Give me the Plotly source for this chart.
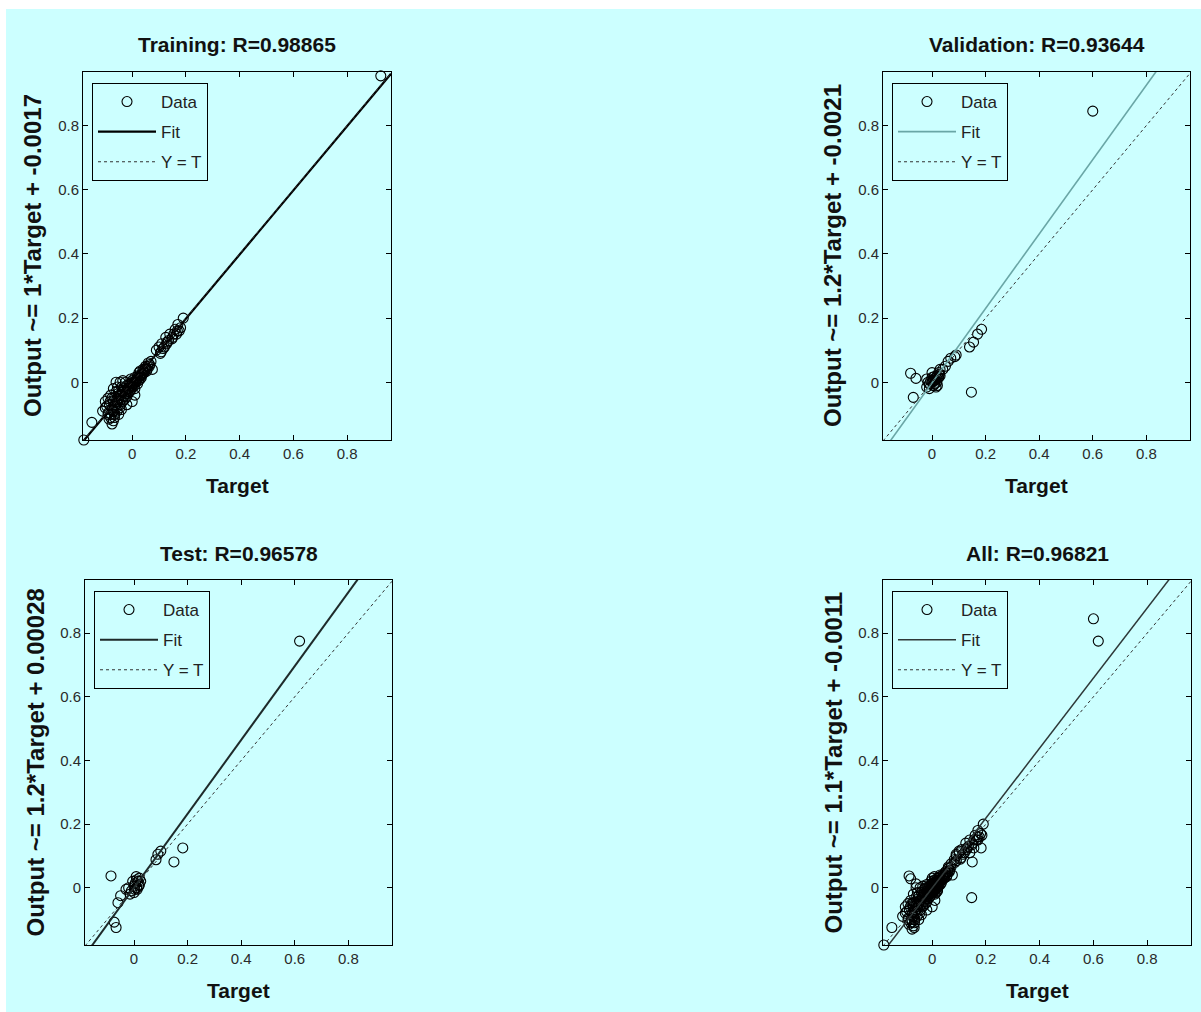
import plotly.graph_objects as go

W, H = 1201, 1012

# ---------------- data ----------------
train_t = [-0.18, -0.15, -0.11, -0.10, -0.10, -0.09, -0.09, -0.085, -0.08, -0.08,
           -0.075, -0.075, -0.07, -0.07, -0.07, -0.065, -0.065, -0.06, -0.06, -0.06,
           -0.055, -0.055, -0.05, -0.05, -0.05, -0.045, -0.045, -0.04, -0.04, -0.04,
           -0.035, -0.035, -0.03, -0.03, -0.025, -0.025, -0.02, -0.02, -0.015, -0.01,
           -0.01, -0.005, 0.0, 0.0, 0.005, 0.01, 0.01, 0.015, 0.02, 0.02,
           0.025, 0.03, 0.03, 0.035, 0.04, 0.045, 0.05, 0.055, 0.06, 0.065,
           0.07, 0.075, 0.09, 0.10, 0.105, 0.11, 0.12, 0.125, 0.13, 0.14,
           0.15, 0.16, 0.165, 0.17, 0.18, 0.19, 0.0, -0.02, 0.01, -0.065,
           -0.058, -0.048, -0.038, -0.028, -0.018, -0.008, 0.002, 0.012, 0.022, 0.032,
           0.042, 0.052, -0.072, -0.062, 0.115, 0.135, 0.155,
           -0.095, -0.088, -0.082, -0.078, -0.068, -0.052, -0.042, -0.032, -0.022, -0.012,
           -0.002, 0.008, 0.018, 0.028, 0.038, 0.048, 0.058, -0.086, -0.076, -0.066,
           -0.056, -0.046, -0.036, -0.026, -0.016, -0.006, 0.004, 0.014, 0.024, 0.034,
           0.044, 0.054, 0.064, 0.108, 0.128, 0.148, 0.168, 0.175]
train_y = [-0.18, -0.125, -0.09, -0.08, -0.06, -0.10, -0.05, -0.07, -0.11, -0.04,
           -0.13, -0.085, -0.12, -0.06, -0.02, -0.10, -0.045, -0.08, -0.03, 0.0,
           -0.065, -0.015, -0.10, -0.05, -0.025, -0.07, 0.0, -0.04, -0.015, -0.085,
           -0.03, 0.005, -0.055, -0.02, -0.035, 0.0, -0.01, -0.045, -0.025, -0.005,
           -0.03, 0.01, -0.015, 0.005, -0.005, 0.015, -0.02, 0.005, 0.02, -0.005,
           0.03, 0.01, 0.035, 0.025, 0.04, 0.03, 0.05, 0.04, 0.06, 0.055,
           0.065, 0.04, 0.10, 0.11, 0.09, 0.12, 0.11, 0.14, 0.125, 0.15,
           0.14, 0.165, 0.15, 0.18, 0.17, 0.20, -0.06, -0.07, -0.04, -0.075,
           -0.055, -0.04, -0.03, -0.025, -0.02, -0.01, 0.0, 0.005, 0.015, 0.02,
           0.035, 0.045, -0.09, -0.07, 0.105, 0.13, 0.15,
           -0.075, -0.095, -0.06, -0.10, -0.09, -0.035, -0.055, -0.045, -0.03, -0.02,
           -0.01, 0.0, 0.01, 0.02, 0.025, 0.04, 0.05, -0.115, -0.05, -0.11,
           -0.09, -0.08, -0.06, -0.05, -0.035, -0.025, -0.015, 0.0, 0.005, 0.015,
           0.03, 0.035, 0.05, 0.095, 0.12, 0.135, 0.16, 0.16]
# extreme training point visible only in the Training panel
train_top_t = [0.925]
train_top_y = [0.955]

val_t = [0.60, 0.147, -0.08, -0.06, -0.07, 0.185, 0.17, 0.14, 0.155, 0.085,
         0.07, 0.06, 0.09, 0.05, 0.04, -0.01, 0.0, 0.005, 0.01, 0.015,
         0.02, 0.0, 0.01, 0.005, 0.02, 0.025, -0.005, 0.012, 0.003, 0.018,
         0.008, 0.028, -0.02, -0.015, -0.01, 0.025, 0.03, 0.015, -0.02, 0.03,
         0.0, 0.02]
val_y = [0.845, -0.031, 0.028, 0.012, -0.047, 0.165, 0.15, 0.11, 0.125, 0.08,
         0.075, 0.065, 0.085, 0.05, 0.04, -0.005, 0.0, 0.01, 0.005, 0.015,
         0.01, 0.015, -0.005, -0.01, 0.02, 0.015, 0.005, 0.008, 0.004, 0.0,
         0.018, 0.025, -0.015, 0.0, -0.02, 0.03, 0.02, -0.015, 0.01, 0.04,
         0.03, -0.01]

test_t = [0.618, -0.086, 0.149, 0.182, 0.089, 0.10, 0.082, -0.067, -0.074, -0.06,
          -0.05, -0.03, -0.02, -0.01, 0.0, 0.005, 0.01, 0.015, 0.02, 0.0,
          0.008, 0.02, -0.005, 0.012, 0.025, -0.015, 0.01, 0.018, 0.003]
test_y = [0.775, 0.037, 0.081, 0.125, 0.105, 0.115, 0.088, -0.125, -0.108, -0.047,
          -0.025, -0.005, 0.0, -0.01, 0.005, 0.015, 0.0, 0.02, 0.01, -0.015,
          0.035, 0.03, 0.02, -0.005, 0.02, -0.02, 0.025, 0.005, -0.005]

all_t = train_t + val_t + test_t
all_y = train_y + val_y + test_y

panel_names = ["Training", "Validation", "Test", "All"]
r_values = ["0.98865", "0.93644", "0.96578", "0.96821"]
slope_labels = ["1", "1.2", "1.2", "1.1"]
intercept_labels = ["-0.0017", "-0.0021", "0.00028", "-0.0011"]
fit_slope = [1.0, 1.16, 1.16, 1.10]
fit_intercept = [-0.0017, -0.0021, 0.00028, -0.0011]
tick_vals = [0, 0.2, 0.4, 0.6, 0.8]
tick_text = ["0", "0.2", "0.4", "0.6", "0.8"]
x_lim = [-0.183, 0.963]
y_lim = [-0.18, 0.967]

# ---------------- styling / layout ----------------
BG = "#ccffff"
FONT = "Liberation Sans, Arial, sans-serif"
fit_colors = ["#000000", "#6aa6a6", "#1e2a2a", "#2e3838"]
fit_widths = [2.2, 1.6, 2.0, 1.5]
# panel pixel boxes: left, right, top, bottom
boxes = [(83, 391, 72, 440), (883, 1190, 72, 440), (85, 392, 580, 945), (883, 1191, 580, 945)]
data_t = [train_t + train_top_t, val_t, test_t, all_t]
data_y = [train_y + train_top_y, val_y, test_y, all_y]

fig = go.Figure()
layout = dict(
    width=W, height=H,
    margin=dict(l=0, r=0, t=0, b=0),
    paper_bgcolor=BG, plot_bgcolor=BG,
    showlegend=True,
    annotations=[],
    shapes=[
        dict(type="rect", xref="paper", yref="paper", x0=0, x1=1, y0=1 - 9 / H, y1=1,
             fillcolor="white", line=dict(width=0), layer="below"),
        dict(type="rect", xref="paper", yref="paper", x0=0, x1=6 / W, y0=0, y1=1,
             fillcolor="white", line=dict(width=0), layer="below"),
    ],
)

for i in range(4):
    l, r, t, b = boxes[i]
    sfx = "" if i == 0 else str(i + 1)
    xa, ya = "x" + sfx, "y" + sfx
    leg = "legend" + sfx

    fig.add_trace(go.Scatter(
        x=data_t[i], y=data_y[i], mode="markers", name="Data",
        xaxis=xa, yaxis=ya, legend=leg, legendgroup=f"d{i}", cliponaxis=False,
        marker=dict(symbol="circle-open", size=10, color="black", line=dict(width=1.1)),
        hoverinfo="skip"))
    fig.add_trace(go.Scatter(
        x=x_lim, y=[fit_slope[i] * v + fit_intercept[i] for v in x_lim],
        mode="lines", name="Fit", xaxis=xa, yaxis=ya, legend=leg, legendgroup=f"f{i}",
        line=dict(color=fit_colors[i], width=fit_widths[i]), hoverinfo="skip"))
    fig.add_trace(go.Scatter(
        x=x_lim, y=x_lim, mode="lines", name="Y = T",
        xaxis=xa, yaxis=ya, legend=leg, legendgroup=f"y{i}",
        line=dict(color="#333333", width=1, dash="3px,3px"), hoverinfo="skip"))

    axis_common = dict(
        showline=True, linecolor="black", linewidth=1, mirror="ticks",
        ticks="inside", ticklen=5, tickcolor="black", tickwidth=1,
        tickvals=tick_vals, ticktext=tick_text, showgrid=False, zeroline=False,
        tickfont=dict(family=FONT, size=15, color="#2a2a2a"), fixedrange=True,
    )
    layout["xaxis" + sfx] = dict(axis_common, domain=[l / W, r / W], range=x_lim, anchor=ya)
    layout["yaxis" + sfx] = dict(axis_common, domain=[1 - b / H, 1 - t / H], range=y_lim, anchor=xa)

    layout[leg] = dict(
        x=(l + 9) / W, y=1 - (t + 11) / H, xanchor="left", yanchor="top",
        xref="paper", yref="paper",
        bordercolor="black", borderwidth=1, bgcolor="rgba(0,0,0,0)",
        font=dict(family=FONT, size=17, color="#222222"),
        itemwidth=58, traceorder="grouped", tracegroupgap=5,
    )

    cx = (l + r) / 2
    cy = (t + b) / 2
    layout["annotations"] += [
        dict(text=f"<b>{panel_names[i]}: R={r_values[i]}</b>", x=cx / W, y=1 - (t - 27) / H,
             xref="paper", yref="paper", xanchor="center", yanchor="middle", showarrow=False,
             font=dict(family=FONT, size=21, color="#111111")),
        dict(text="<b>Target</b>", x=cx / W, y=1 - (b + 45) / H,
             xref="paper", yref="paper", xanchor="center", yanchor="middle", showarrow=False,
             font=dict(family=FONT, size=21, color="#111111")),
        dict(text=f"<b>Output ~= {slope_labels[i]}*Target + {intercept_labels[i]}</b>",
             x=(l - 50) / W, y=1 - cy / H, textangle=-90,
             xref="paper", yref="paper", xanchor="center", yanchor="middle", showarrow=False,
             font=dict(family=FONT, size=24, color="#111111")),
    ]

fig.update_layout(**layout)
fig.write_html("out.html", config={"displayModeBar": False},
               post_script="document.body.style.margin='0';")
